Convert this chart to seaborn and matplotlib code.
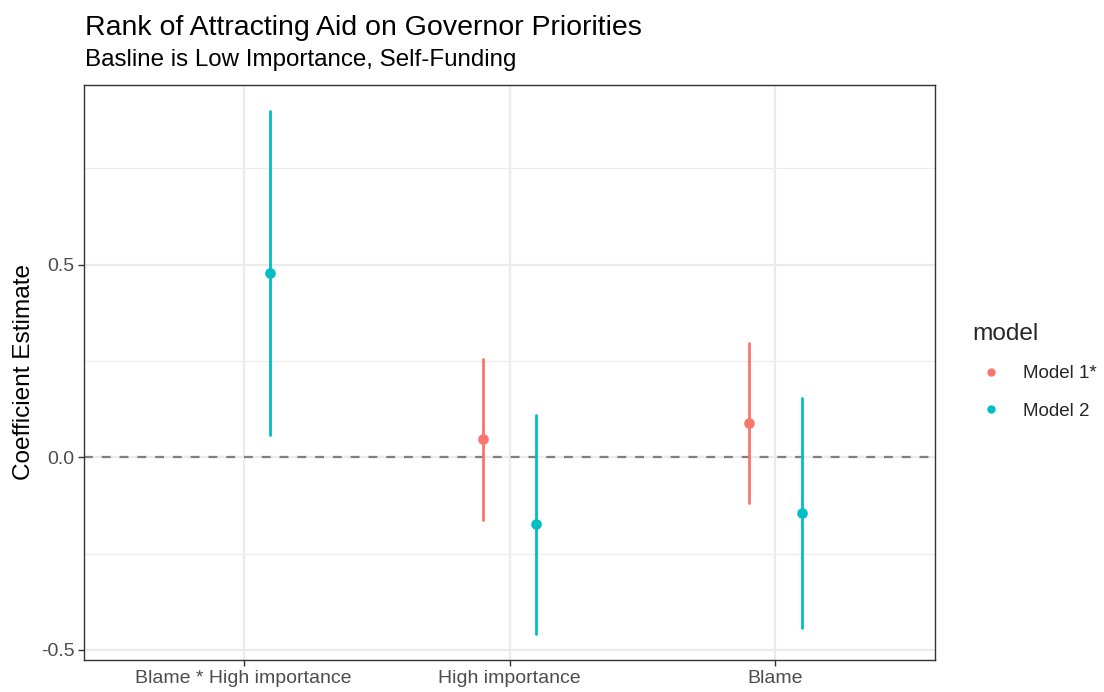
import numpy as np
import pandas as pd
import matplotlib
matplotlib.use("Agg")
import matplotlib.pyplot as plt
from matplotlib.lines import Line2D
from matplotlib.ticker import FixedLocator
import seaborn as sns

# Coefficient estimates with their confidence bounds
terms = ["Blame * High importance", "High importance", "High importance", "Blame", "Blame"]
models = ["Model 2", "Model 1*", "Model 2", "Model 1*", "Model 2"]
estimate = [0.477, 0.047, -0.173, 0.088, -0.145]
ci_low = [0.058, -0.162, -0.458, -0.119, -0.443]
ci_high = [0.898, 0.256, 0.110, 0.297, 0.153]

term_order = ["Blame * High importance", "High importance", "Blame"]
model_order = ["Model 1*", "Model 2"]
palette = {"Model 1*": "#F8766D", "Model 2": "#00BFC4"}

# Long form: each term/model contributes its lower bound, estimate and upper bound,
# so the median is the estimate and the full percentile interval is the CI.
rows = []
for t, m, lo, est, hi in zip(terms, models, ci_low, estimate, ci_high):
    for v in (lo, est, hi):
        rows.append({"term": t, "model": m, "value": v})
df = pd.DataFrame(rows)

sns.set_theme(style="white")
plt.rcParams["font.family"] = ["Liberation Sans", "DejaVu Sans"]

fig = plt.figure(figsize=(11.04, 6.92), dpi=100)
ax = fig.add_axes([84 / 1104, 1 - 660 / 692, (935 - 84) / 1104, (660 - 85) / 692])

# grid first so the marks sit on top
ax.set_axisbelow(True)

sns.pointplot(
    data=df, x="term", y="value", hue="model",
    order=term_order, hue_order=model_order, palette=palette,
    estimator="median", errorbar=("pi", 100),
    dodge=0.2, linestyle="none", marker="o", markersize=5.6,
    err_kws={"linewidth": 2.0}, legend=False, ax=ax,
)

ax.axhline(0, color="#7F7F7F", linewidth=1.6, linestyle=(0, (4, 4)), zorder=1.5)

ax.set_xlim(-0.6, 2.6)
ax.set_ylim(-0.526, 0.966)
ax.yaxis.set_major_locator(FixedLocator([-0.5, 0.0, 0.5]))
ax.yaxis.set_minor_locator(FixedLocator([-0.25, 0.25, 0.75]))
ax.set_yticklabels(["-0.5", "0.0", "0.5"])

ax.grid(True, which="major", axis="both", color="#EBEBEB", linewidth=1.6)
ax.grid(True, which="minor", axis="y", color="#EBEBEB", linewidth=0.8)

for s in ax.spines.values():
    s.set_color("#333333")
    s.set_linewidth(1.0)

ax.tick_params(axis="both", which="major", length=4.0, width=1.0, color="#333333",
               labelcolor="#4D4D4D", labelsize=14, pad=3, bottom=True, left=True)
ax.tick_params(axis="y", which="minor", length=0, left=False)

ax.set_xlabel("")
ax.set_ylabel("Coefficient Estimate", fontsize=17.6, color="black")
ax.yaxis.set_label_coords(-49 / 851, 0.5)

fig.text(85 / 1104, 1 - 28 / 692, "Rank of Attracting Aid on Governor Priorities",
         fontsize=20.5, color="black", ha="left", va="center")
fig.text(85 / 1104, 1 - 60 / 692, "Basline is Low Importance, Self-Funding",
         fontsize=17.4, color="black", ha="left", va="center")

handles = [
    Line2D([], [], linestyle="none", marker="o", markersize=5.0,
           color=palette[m], label=m)
    for m in model_order
]
leg = fig.legend(handles=handles, title="model", loc="upper left",
                 bbox_to_anchor=(965 / 1104, 1 - 315 / 692), frameon=False,
                 fontsize=13.5, title_fontsize=17.6, handletextpad=0.7,
                 labelspacing=1.1, handlelength=2.0, borderaxespad=0)
leg._legend_box.align = "left"

fig.savefig("out.png", dpi=100)
